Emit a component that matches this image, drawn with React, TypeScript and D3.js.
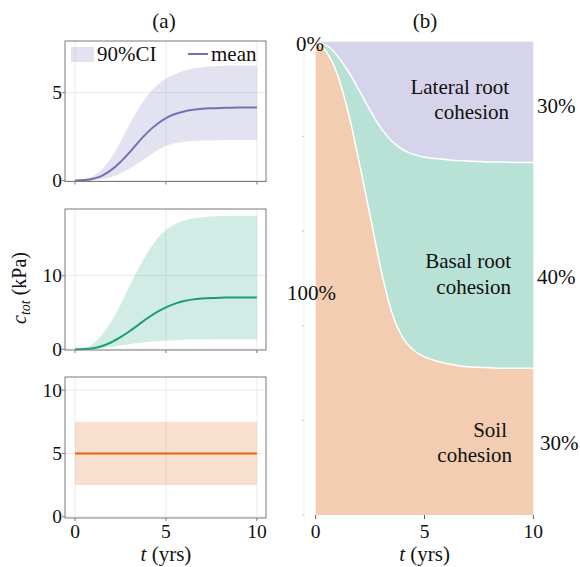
import * as d3 from 'd3';
import React from 'react';

// time axis (years)
const years = [0, 0.5, 1, 1.5, 2, 2.5, 3, 3.5, 4, 4.5, 5, 5.5, 6, 6.5, 7, 7.5, 8, 8.5, 9, 9.5, 10];

// (a) lateral root cohesion, kPa
const lateralMean = [0, 0.02, 0.1, 0.28, 0.6, 1.05, 1.6, 2.2, 2.75, 3.2, 3.55, 3.78, 3.93, 4.02, 4.08, 4.11, 4.13, 4.14, 4.15, 4.15, 4.15];
const lateralHi = [0, 0.05, 0.25, 0.65, 1.3, 2.2, 3.2, 4.1, 4.85, 5.4, 5.8, 6.05, 6.25, 6.37, 6.45, 6.5, 6.52, 6.54, 6.55, 6.55, 6.55];
const lateralLo = [0, 0.01, 0.03, 0.08, 0.2, 0.4, 0.68, 1.0, 1.35, 1.7, 1.98, 2.12, 2.2, 2.25, 2.27, 2.28, 2.29, 2.3, 2.3, 2.3, 2.3];

// (a) basal root cohesion, kPa
const basalMean = [0, 0.03, 0.15, 0.45, 0.95, 1.65, 2.45, 3.35, 4.25, 5.05, 5.7, 6.2, 6.55, 6.78, 6.9, 6.97, 7.01, 7.03, 7.05, 7.05, 7.05];
const basalHi = [0, 0.15, 0.8, 2.0, 3.8, 6.0, 8.6, 11.0, 13.2, 15.0, 16.2, 17.0, 17.5, 17.8, 17.95, 18.05, 18.1, 18.12, 18.15, 18.15, 18.15];
const basalLo = [0, 0.01, 0.05, 0.15, 0.3, 0.5, 0.68, 0.85, 1.0, 1.1, 1.17, 1.23, 1.28, 1.31, 1.33, 1.34, 1.35, 1.36, 1.36, 1.36, 1.36];

// (a) soil cohesion, kPa
const soilMean = [5, 5, 5, 5, 5, 5, 5, 5, 5, 5, 5, 5, 5, 5, 5, 5, 5, 5, 5, 5, 5];
const soilHi = [7.5, 7.5, 7.5, 7.5, 7.5, 7.5, 7.5, 7.5, 7.5, 7.5, 7.5, 7.5, 7.5, 7.5, 7.5, 7.5, 7.5, 7.5, 7.5, 7.5, 7.5];
const soilLo = [2.5, 2.5, 2.5, 2.5, 2.5, 2.5, 2.5, 2.5, 2.5, 2.5, 2.5, 2.5, 2.5, 2.5, 2.5, 2.5, 2.5, 2.5, 2.5, 2.5, 2.5];

// (b) share of total cohesion, %
const soilShare = [100, 97.8, 93, 85, 74.5, 63.3, 51.8, 42.8, 37.5, 34.8, 33.4, 32.6, 32.0, 31.6, 31.3, 31.2, 31.1, 31, 31, 31, 31];
const basalShare = [0, 1.4, 4, 8.7, 15.2, 22.2, 29.9, 36.2, 39.7, 41.4, 42.2, 42.7, 43.1, 43.3, 43.5, 43.5, 43.5, 43.6, 43.5, 43.5, 43.5];
const lateralShare = [0, 0.8, 3, 6.3, 10.3, 14.5, 18.3, 21, 22.8, 23.8, 24.4, 24.7, 24.9, 25.1, 25.2, 25.3, 25.4, 25.4, 25.5, 25.5, 25.5];

const xTicks = [0, 5, 10];

const FONT = '"Liberation Serif", "DejaVu Serif", serif';
const PURPLE = '#7570b3';
const GREEN = '#1b9e77';
const ORANGE = '#e2640c';

const panels = [
  { mean: lateralMean, hi: lateralHi, lo: lateralLo, color: PURPLE, top: 41, bottom: 181.5, domain: [-0.06, 7.94], ticks: [0, 5], legend: true },
  { mean: basalMean, hi: basalHi, lo: basalLo, color: GREEN, top: 209, bottom: 350, domain: [-0.1, 19.06], ticks: [0, 10], legend: false },
  { mean: soilMean, hi: soilHi, lo: soilLo, color: ORANGE, top: 377, bottom: 518, domain: [-0.1, 11.03], ticks: [0, 5, 10], legend: false },
];

const frameLeft = 65;
const frameRight = 266;

function BandPanel({ p, last }: { p: any; last: boolean }) {
  const x = d3.scaleLinear().domain([-0.55, 10.5]).range([frameLeft, frameRight]);
  const y = d3.scaleLinear().domain(p.domain).range([p.bottom, p.top]);
  const idx = d3.range(years.length);
  const area = d3.area<number>()
    .x((i) => x(years[i]))
    .y0((i) => y(p.lo[i]))
    .y1((i) => y(p.hi[i]))
    .curve(d3.curveMonotoneX);
  const line = d3.line<number>()
    .x((i) => x(years[i]))
    .y((i) => y(p.mean[i]))
    .curve(d3.curveMonotoneX);
  return (
    <g>
      {xTicks.map((t) => (
        <line key={'gx' + t} x1={x(t)} x2={x(t)} y1={p.top} y2={p.bottom} stroke="#ebebeb" strokeWidth={1} />
      ))}
      {p.ticks.map((t: number) => (
        <line key={'gy' + t} x1={frameLeft} x2={frameRight} y1={y(t)} y2={y(t)} stroke="#ebebeb" strokeWidth={1} />
      ))}
      <path d={area(idx) || ''} fill={p.color} fillOpacity={0.2} />
      <path d={line(idx) || ''} fill="none" stroke={p.color} strokeWidth={2} />
      <rect x={frameLeft} y={p.top} width={frameRight - frameLeft} height={p.bottom - p.top} fill="none" stroke="#7a7a7a" strokeWidth={1} />
      {p.ticks.map((t: number) => (
        <g key={'ty' + t}>
          <line x1={frameLeft - 3} x2={frameLeft} y1={y(t)} y2={y(t)} stroke="#7a7a7a" />
          <text x={frameLeft - 3} y={y(t) + 6.5} textAnchor="end" fontSize={19.5} fontFamily={FONT} fill="#111">{t}</text>
        </g>
      ))}
      {xTicks.map((t) => (
        <line key={'tx' + t} x1={x(t)} x2={x(t)} y1={p.bottom} y2={p.bottom + 3} stroke="#7a7a7a" />
      ))}
      {last && xTicks.map((t) => (
        <text key={'lx' + t} x={x(t)} y={538} textAnchor="middle" fontSize={19.5} fontFamily={FONT} fill="#111">{t}</text>
      ))}
      {last && (
        <text x={x(5)} y={561} textAnchor="middle" fontSize={21} fontFamily={FONT} fill="#111">
          <tspan fontStyle="italic">t</tspan> (yrs)
        </text>
      )}
      {p.legend && (
        <g fontFamily={FONT} fontSize={21} fill="#111">
          <rect x={71} y={47} width={23} height={15} fill={PURPLE} fillOpacity={0.2} />
          <text x={97} y={61}>90%CI</text>
          <line x1={188} x2={208} y1={54} y2={54} stroke={PURPLE} strokeWidth={2} />
          <text x={211} y={61}>mean</text>
        </g>
      )}
    </g>
  );
}

function SharePanel() {
  const x = d3.scaleLinear().domain([0, 10]).range([315.7, 533.3]);
  const y = d3.scaleLinear().domain([0, 100]).range([515, 41.7]);
  const rows = years.map((t, i) => ({ t, soil: soilShare[i], basal: basalShare[i], lateral: lateralShare[i] }));
  const series = d3.stack<any>().keys(['soil', 'basal', 'lateral'])(rows);
  const fills = ['#f3cdb1', '#b9e2d6', '#d6d4ea'];
  const area = d3.area<any>()
    .x((d) => x(d.data.t))
    .y0((d) => y(d[0]))
    .y1((d) => y(d[1]))
    .curve(d3.curveMonotoneX);
  const edge = d3.line<any>()
    .x((d) => x(d.data.t))
    .y((d) => y(d[1]))
    .curve(d3.curveMonotoneX);
  const yTicks = [0, 20, 40, 60, 80, 100];
  const label = { fontFamily: FONT, fontSize: 21, fill: '#111' } as any;
  return (
    <g>
      <line x1={304} x2={304} y1={38} y2={518} stroke="#f0f0f0" strokeWidth={1} />
      {yTicks.map((t) => (
        <line key={t} x1={302} x2={304} y1={y(t)} y2={y(t)} stroke="#c8c8c8" />
      ))}
      {series.map((s, i) => (
        <path key={s.key} d={area(s as any) || ''} fill={fills[i]} />
      ))}
      {series.slice(0, 2).map((s) => (
        <path key={'e' + s.key} d={edge(s as any) || ''} fill="none" stroke="#fff" strokeWidth={1.5} />
      ))}
      {xTicks.map((t) => (
        <g key={'x' + t}>
          <line x1={x(t)} x2={x(t)} y1={515} y2={519} stroke="#555" />
          <text x={x(t)} y={538} textAnchor="middle" {...label} fontSize={19.5}>{t}</text>
        </g>
      ))}
      <text x={x(5)} y={561} textAnchor="middle" {...label}>
        <tspan fontStyle="italic">t</tspan> (yrs)
      </text>
      <text x={296} y={51} {...label}>0%</text>
      <text x={287} y={300} {...label}>100%</text>
      <g textAnchor="end" {...label}>
        <text x={509} y={94}>Lateral root</text>
        <text x={509} y={119}>cohesion</text>
        <text x={511} y={268}>Basal root</text>
        <text x={511} y={294}>cohesion</text>
        <text x={507} y={437}>Soil</text>
        <text x={512} y={462}>cohesion</text>
      </g>
      <text x={537} y={113} {...label}>30%</text>
      <text x={537} y={284} {...label}>40%</text>
      <text x={540} y={450} {...label}>30%</text>
    </g>
  );
}

export default function App() {
  return (
    <svg width={580} height={567} style={{ position: 'absolute', left: 0, top: 0, background: '#fff' }}>
      <text x={164} y={28} textAnchor="middle" fontFamily={FONT} fontSize={21} fill="#111">(a)</text>
      <text x={425} y={28} textAnchor="middle" fontFamily={FONT} fontSize={21} fill="#111">(b)</text>
      {panels.map((p, i) => (
        <BandPanel key={i} p={p} last={i === panels.length - 1} />
      ))}
      <text transform="translate(26,288) rotate(-90)" textAnchor="middle" fontFamily={FONT} fontSize={20} fill="#111">
        <tspan fontStyle="italic">c</tspan>
        <tspan fontStyle="italic" fontSize={14} dy={4}>tot</tspan>
        <tspan dy={-4}> (kPa)</tspan>
      </text>
      <SharePanel />
    </svg>
  );
}
